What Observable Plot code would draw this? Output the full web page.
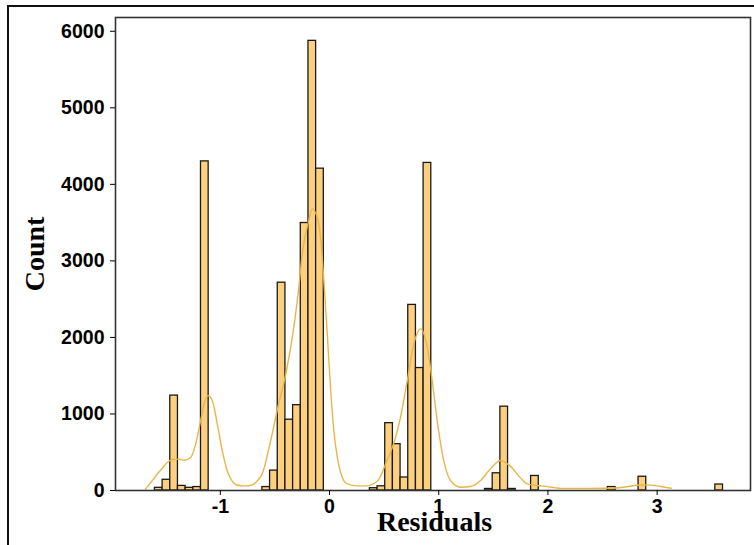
<!DOCTYPE html>
<html>
<head>
<meta charset="utf-8">
<script src="https://cdn.jsdelivr.net/npm/d3@7"></script>
<script src="https://cdn.jsdelivr.net/npm/@observablehq/plot@0.6"></script>
<style>
  html, body { margin: 0; padding: 0; background: #fff; overflow: hidden; }
  #wrap { position: relative; width: 754px; height: 545px; }
  #border { position: absolute; left: 7px; top: 5px; width: 800px; height: 600px;
            border-left: 2px solid #111; border-top: 2px solid #111; }
  #chart { position: absolute; left: 0; top: 0; }
</style>
</head>
<body>
<div id="wrap"><div id="border"></div><div id="chart"></div></div>
<script>
// Histogram of residuals: equal-width bins, only non-empty bins listed
const binStart = -1.599;
const binWidth = 0.0703;
const binIndex = [0, 1, 2, 3, 4, 5, 6,
                  14, 15, 16, 17, 18, 19, 20, 21,
                  28, 29, 30, 31, 32, 33, 34, 35,
                  43, 44, 45, 46, 49, 59, 63, 73];
const binCount = [35, 140, 1240, 60, 35, 45, 4300,
                  45, 260, 2715, 925, 1115, 3495, 5875, 4205,
                  30, 55, 880, 605, 170, 2425, 1600, 4280,
                  20, 225, 1095, 20, 190, 45, 180, 78];

// Kernel density estimate (scaled to counts)
const kdeX = [-1.685, -1.639, -1.578, -1.532, -1.486, -1.438, -1.383, -1.328, -1.273, -1.227,
              -1.181, -1.145, -1.113, -1.074, -1.028, -0.983, -0.937, -0.891, -0.852, -0.797,
              -0.723, -0.659, -0.616, -0.547, -0.473, -0.400, -0.327, -0.281, -0.250, -0.190,
              -0.158, -0.113, -0.082, -0.052, -0.021, 0.009, 0.039, 0.071, 0.116, 0.162,
              0.254, 0.330, 0.437, 0.528, 0.589, 0.650, 0.712, 0.772, 0.833, 0.895,
              0.940, 0.986, 1.047, 1.108, 1.200, 1.291, 1.383, 1.474, 1.566, 1.658,
              1.749, 1.810, 1.902, 1.994, 2.070, 2.115, 2.344, 2.543, 2.695, 2.818,
              2.909, 3.031, 3.129];
const kdeY = [20, 100, 215, 290, 365, 405, 410, 395, 430, 600,
              910, 1150, 1240, 1176, 871, 523, 261, 120, 75, 60,
              65, 130, 218, 600, 1088, 1524, 2133, 2656, 3092, 3527,
              3680, 3570, 3309, 2743, 2047, 1350, 784, 435, 174, 87,
              60, 60, 120, 400, 620, 960, 1437, 1916, 2112, 1872,
              1437, 914, 380, 131, 43, 52, 131, 283, 392, 315,
              165, 87, 65, 50, 35, 28, 28, 30, 43, 69,
              74, 52, 30];

const xTicks = [-1, 0, 1, 2, 3];
const yTicks = [0, 1000, 2000, 3000, 4000, 5000, 6000];

const bins = binIndex.map((k, i) => ({
  x0: binStart + k * binWidth,
  x1: binStart + (k + 1) * binWidth,
  count: binCount[i]
}));
const kde = kdeX.map((x, i) => ({x, y: kdeY[i]}));

const chart = Plot.plot({
  width: 754,
  height: 545,
  marginLeft: 115,
  marginRight: 4,
  marginTop: 17,
  marginBottom: 55,
  style: {
    fontFamily: "'Liberation Sans', Arial, sans-serif",
    fontSize: "19.5px",
    fontWeight: "bold",
    color: "#000",
    background: "transparent"
  },
  x: {domain: [-1.96, 3.855]},
  y: {domain: [0, 6180]},
  marks: [
    Plot.rectY(bins, {x1: "x0", x2: "x1", y: "count", fill: "#fdd07f", stroke: "#1a1a1a", strokeWidth: 1.3}),
    Plot.line(kde, {x: "x", y: "y", stroke: "#eab548", strokeWidth: 1.4, curve: "monotone-x"}),
    Plot.frame({stroke: "#333", strokeWidth: 1.6}),
    Plot.axisY({ticks: yTicks, tickSize: 5, tickPadding: 6, tickFormat: d => String(d), label: null}),
    Plot.axisX({ticks: xTicks, tickSize: 5, tickPadding: 4, tickFormat: d => String(d), label: null}),
    Plot.text(["Residuals"], {frameAnchor: "bottom", dx: 1.5, dy: 40, lineAnchor: "bottom", textAnchor: "middle",
      fontFamily: "'Liberation Serif', 'Times New Roman', serif", fontSize: 28, fontWeight: "bold"}),
    Plot.text(["Count"], {frameAnchor: "left", dx: -72, rotate: -90, lineAnchor: "bottom", textAnchor: "middle",
      fontFamily: "'Liberation Serif', 'Times New Roman', serif", fontSize: 28, fontWeight: "bold"})
  ]
});
document.getElementById("chart").appendChild(chart);
</script>
</body>
</html>
